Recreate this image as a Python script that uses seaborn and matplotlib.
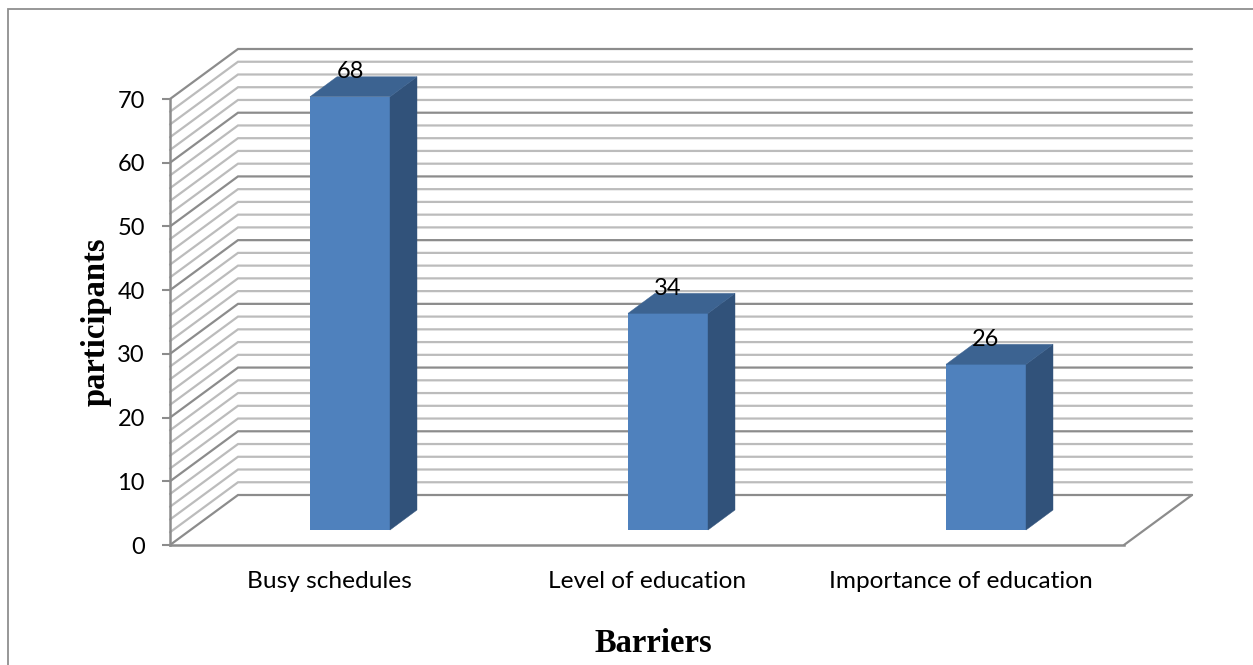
import matplotlib
matplotlib.use("Agg")
import matplotlib.pyplot as plt
from matplotlib.lines import Line2D
from matplotlib.patches import Polygon
from matplotlib.transforms import ScaledTranslation
import seaborn as sns

categories = ["Busy schedules", "Level of education", "Importance of education"]
participants = [68, 34, 26]
major_ticks = [0, 10, 20, 30, 40, 50, 60, 70]
minor_ticks = [v for v in range(0, 71, 2) if v % 10]

W, H = 1253, 665
LEFT, RIGHT, BASE, TOP = 170, 1124, 545, 99

sns.set_theme(style="white")
plt.rcParams["font.family"] = ["Lato", "DejaVu Sans"]

fig = plt.figure(figsize=(W / 100, H / 100), dpi=100, facecolor="white")
ax = fig.add_axes([LEFT / W, 1 - BASE / H, (RIGHT - LEFT) / W, (BASE - TOP) / H])
ax.set_facecolor("none")

# Unit sizes in pixels, used to express the oblique depth in data units
px_x = (RIGHT - LEFT) / 3
px_y = (BASE - TOP) / 70
wall_dx, wall_dy = 68 / px_x, 50 / px_y
bar_shift_x, bar_shift_y = 21 / px_x, 15 / px_y
bar_dx, bar_dy = 27 / px_x, 20 / px_y

FRONT, SIDE, CAP = "#4f81bd", "#31527a", "#3c6391"
MAJOR, MINOR = "#8c8c8c", "#bcbcbc"

sns.barplot(x=categories, y=participants, color=FRONT, saturation=1,
            width=80 / px_x, ax=ax, zorder=5, linewidth=0)
ax.set_xlim(-0.5, 2.5)
ax.set_ylim(0, 70)

# Back wall and left wall rules
x0, x1 = -0.5, 2.5
for ticks, colour, width in ((minor_ticks, MINOR, 1.6), (major_ticks, MAJOR, 1.6)):
    for v in ticks:
        ax.plot([x0, x0 + wall_dx, x1 + wall_dx], [v, v + wall_dy, v + wall_dy],
                color=colour, lw=width, clip_on=False, zorder=2,
                solid_joinstyle="miter")

# Floor edge on the right
ax.plot([x1, x1 + wall_dx], [0, wall_dy], color=MAJOR, lw=1.6, clip_on=False, zorder=2)

# Shift the bar fronts onto the floor, then add side and top faces
for bar, value in zip(ax.patches, participants):
    bar.set_clip_on(False)
    bar.set_x(bar.get_x() + bar_shift_x)
    bar.set_y(bar_shift_y)
    xl, xr = bar.get_x(), bar.get_x() + bar.get_width()
    yb, yt = bar_shift_y, bar_shift_y + value
    ax.add_patch(Polygon([(xr, yb), (xr + bar_dx, yb + bar_dy),
                          (xr + bar_dx, yt + bar_dy), (xr, yt)],
                         facecolor=SIDE, edgecolor=SIDE, lw=0.3, zorder=5, clip_on=False))
    ax.add_patch(Polygon([(xl, yt), (xl + bar_dx, yt + bar_dy),
                          (xr + bar_dx, yt + bar_dy), (xr, yt)],
                         facecolor=CAP, edgecolor=CAP, lw=0.3, zorder=5, clip_on=False))
    ax.annotate(str(value), xy=((xl + xr) / 2, yt), xytext=(0, 25 / 100 * 72),
                textcoords="offset points", ha="center", va="center",
                fontsize=17, color="black", zorder=6, annotation_clip=False)

for side in ("top", "right"):
    ax.spines[side].set_visible(False)
for side in ("left", "bottom"):
    ax.spines[side].set_color(MAJOR)
    ax.spines[side].set_linewidth(1.8)
    ax.spines[side].set_zorder(3)

ax.set_yticks(major_ticks)
ax.tick_params(axis="y", left=True, length=6, width=1.5, color=MAJOR, pad=12,
               labelsize=17, labelcolor="black")
ax.tick_params(axis="x", bottom=False, pad=13, labelsize=17.6, labelcolor="black")

# The longest category label sits slightly left of its slot
last_label = ax.get_xticklabels()[-1]
last_label.set_transform(last_label.get_transform()
                         + ScaledTranslation(-4 / 100, 0, fig.dpi_scale_trans))

fig.text(653 / W, 1 - 644 / H, "Barriers", family="Liberation Serif", weight="bold",
         fontsize=23.5, ha="center", va="center", color="black")
fig.text(96 / W, 1 - 322 / H, "participants", family="Liberation Serif", weight="bold",
         fontsize=23.5, rotation=90, ha="center", va="center", color="black")

# Chart frame, open towards the right and bottom edges of the canvas
fig.add_artist(Line2D([7.5 / W, 7.5 / W, 1], [0, 1 - 8.5 / H, 1 - 8.5 / H],
                      transform=fig.transFigure, color="#8f8f8f", lw=1.3,
                      solid_joinstyle="miter"))

fig.savefig("out.png", dpi=100)
